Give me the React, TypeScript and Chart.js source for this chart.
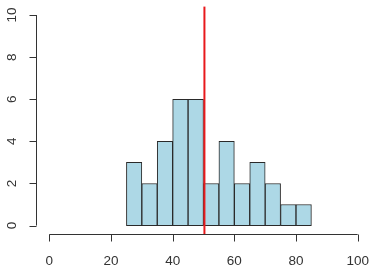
import React, { useEffect, useRef } from "react";
import { Chart, registerables } from "chart.js";

Chart.register(...registerables);

const binStarts = [25, 30, 35, 40, 45, 50, 55, 60, 65, 70, 75, 80];
const binWidth = 5;
const counts = [3, 2, 4, 6, 6, 2, 4, 2, 3, 2, 1, 1];
const xTicks = [0, 20, 40, 60, 80, 100];
const yTicks = [0, 2, 4, 6, 8, 10];
const meanValue = 50.3;

const AXIS_COLOR = "#333333";
const FONT = "13.5px 'Liberation Sans', Arial, sans-serif";

const axesPlugin = {
  id: "rAxes",
  afterDatasetsDraw(chart: any) {
    const { ctx, chartArea, scales } = chart;
    const xs = scales.x;
    ctx.save();
    const mx = xs.getPixelForValue(meanValue);
    ctx.strokeStyle = "#e8191c";
    ctx.lineWidth = 2;
    ctx.beginPath();
    ctx.moveTo(mx, chartArea.top);
    ctx.lineTo(mx, chartArea.bottom);
    ctx.stroke();
    ctx.restore();
  },
  afterDraw(chart: any) {
    const { ctx, chartArea, scales } = chart;
    const xs = scales.x;
    const ys = scales.y;
    ctx.save();
    ctx.strokeStyle = AXIS_COLOR;
    ctx.fillStyle = AXIS_COLOR;
    ctx.lineWidth = 1;
    ctx.font = FONT;
    // x axis
    const ay = Math.round(chartArea.bottom) + 0.5;
    const x0 = xs.getPixelForValue(xTicks[0]);
    const x1 = xs.getPixelForValue(xTicks[xTicks.length - 1]);
    ctx.beginPath();
    ctx.moveTo(x0, ay);
    ctx.lineTo(x1, ay);
    xTicks.forEach((t) => {
      const px = Math.round(xs.getPixelForValue(t)) + 0.5;
      ctx.moveTo(px, ay);
      ctx.lineTo(px, ay + 7);
    });
    ctx.stroke();
    ctx.textAlign = "center";
    ctx.textBaseline = "middle";
    xTicks.forEach((t) => {
      ctx.fillText(String(t), xs.getPixelForValue(t), ay + 27);
    });
    // y axis
    const ax = Math.round(chartArea.left) - 0.5;
    const y0 = ys.getPixelForValue(yTicks[0]);
    const y1 = ys.getPixelForValue(yTicks[yTicks.length - 1]);
    ctx.beginPath();
    ctx.moveTo(ax, y0);
    ctx.lineTo(ax, y1);
    yTicks.forEach((t) => {
      const py = Math.round(ys.getPixelForValue(t)) + 0.5;
      ctx.moveTo(ax, py);
      ctx.lineTo(ax - 7, py);
    });
    ctx.stroke();
    yTicks.forEach((t) => {
      const py = ys.getPixelForValue(t);
      ctx.save();
      ctx.translate(ax - 24, py);
      ctx.rotate(-Math.PI / 2);
      ctx.textAlign = "center";
      ctx.textBaseline = "middle";
      ctx.fillText(String(t), 0, 0);
      ctx.restore();
    });
    ctx.restore();
  },
};

export default function App() {
  const ref = useRef<HTMLCanvasElement | null>(null);
  useEffect(() => {
    document.body.style.margin = "0";
    if (!ref.current) return;
    const chart = new Chart(ref.current, {
      type: "bar",
      data: {
        datasets: [
          {
            data: binStarts.map((s, i) => ({ x: s + binWidth / 2, y: counts[i] })),
            backgroundColor: "#add8e6",
            borderColor: "#2a2a2a",
            borderWidth: 1,
            borderSkipped: false,
            barPercentage: 1,
            categoryPercentage: 1,
          },
        ],
      },
      options: {
        animation: false,
        responsive: false,
        maintainAspectRatio: false,
        layout: { padding: { left: 37, right: 4, top: 6.6, bottom: 36 } },
        plugins: { legend: { display: false }, tooltip: { enabled: false } },
        scales: {
          x: { type: "linear", min: -4, max: 104, display: false, offset: false },
          y: { type: "linear", min: -0.4, max: 10.4, display: false },
        },
      },
      plugins: [axesPlugin],
    });
    return () => chart.destroy();
  }, []);
  return <canvas ref={ref} width={374} height={270} style={{ display: "block" }} />;
}
